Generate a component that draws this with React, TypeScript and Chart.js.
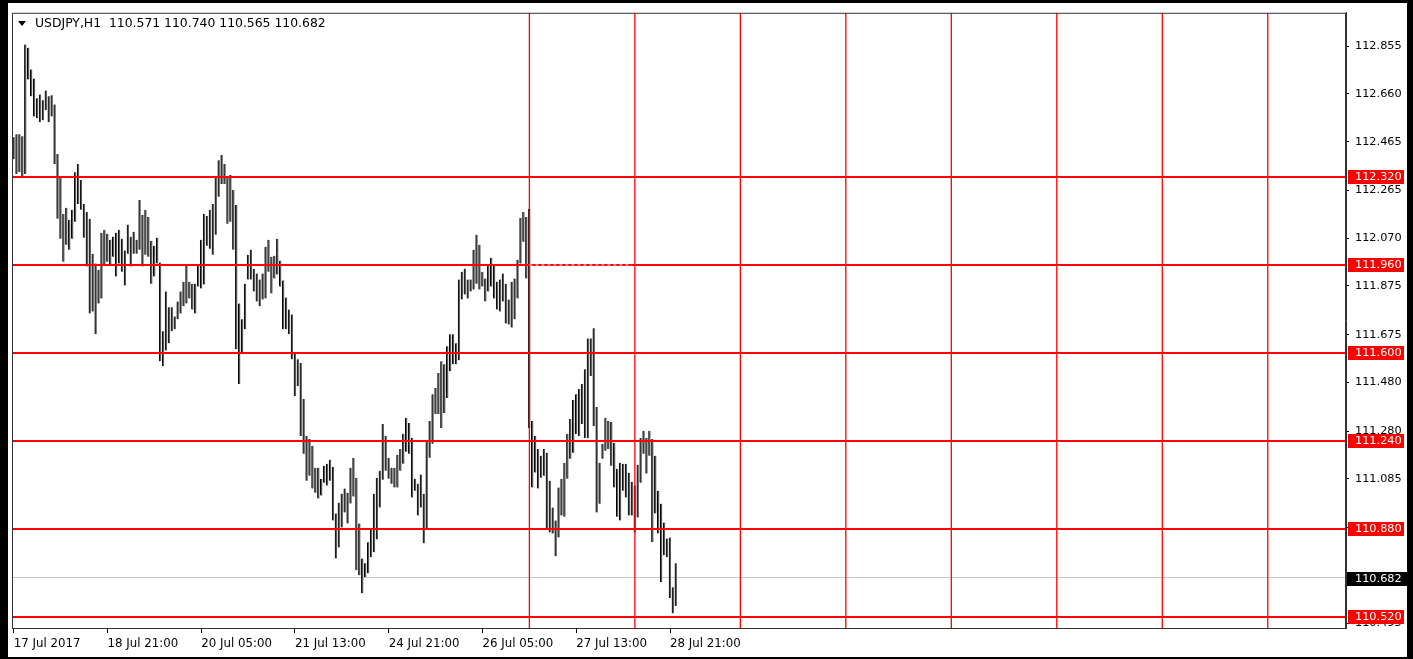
import { useEffect, useRef } from "react";
import { Chart, registerables } from "chart.js";

Chart.register(...registerables);

const SYMBOL = "USDJPY,H1";
const LAST_OHLC = [110.571, 110.74, 110.565, 110.682];

const HIGHS = [
  112.483, 112.495, 112.495, 112.487, 112.862, 112.849, 112.76, 112.723, 112.642, 112.658,
  112.634, 112.674, 112.65, 112.654, 112.617, 112.414, 112.32, 112.169, 112.194, 112.145,
  112.186, 112.34, 112.373, 112.308, 112.21, 112.177, 112.149, 112.006, 111.966, 111.941,
  112.092, 112.104, 112.088, 112.063, 112.076, 112.092, 112.104, 112.068, 112.019, 112.125,
  112.076, 112.096, 112.063, 112.226, 112.165, 112.186, 112.157, 112.059, 112.039, 112.072,
  111.97, 111.689, 111.852, 111.787, 111.787, 111.75, 111.811,
  111.852, 111.892, 111.962, 111.892, 111.884, 111.884, 111.962, 112.063, 112.169, 112.161,
  112.186, 112.21, 112.32, 112.389, 112.41, 112.373, 112.32, 112.328, 112.267, 112.206,
  111.803, 111.738, 111.884, 112.002, 112.023, 111.945, 111.925, 111.901, 111.925, 112.035,
  112.063, 111.994, 111.998, 112.068, 111.978, 111.897, 111.827, 111.778, 111.758, 111.599,
  111.575, 111.559, 111.412, 111.261, 111.249, 111.221, 111.131, 111.131, 111.086, 111.139,
  111.147, 111.164, 111.135, 110.944, 110.988, 111.025, 111.046,
  111.029, 111.131, 111.172, 111.09, 110.903, 110.76, 110.74, 110.826, 110.883, 111.025,
  111.09, 111.119, 111.31, 111.261, 111.172, 111.131, 111.131, 111.184, 111.208, 111.27,
  111.335, 111.314, 111.253, 111.086, 111.066, 111.103, 111.025, 111.241, 111.322, 111.432,
  111.457, 111.518, 111.567, 111.554, 111.628, 111.677, 111.677, 111.64, 111.901, 111.933,
  111.945, 111.901, 111.901, 112.023, 112.084, 112.043, 111.933, 111.905, 111.962, 111.99,
  111.962, 111.892, 111.901, 111.925, 111.884, 111.819,
  111.892, 111.905, 111.982, 112.153, 112.177, 112.157, 112.19, 111.322, 111.261, 111.208,
  111.18, 111.208, 111.192, 111.078, 110.968, 110.915, 111.05, 111.086, 111.151, 111.27,
  111.33, 111.408, 111.432, 111.453, 111.473, 111.534, 111.66, 111.66, 111.701, 111.379,
  111.151, 111.229, 111.335, 111.322, 111.318, 111.233, 111.127, 111.151, 111.147, 111.147,
  111.11, 111.074, 111.058, 111.143, 111.253, 111.282, 111.253, 111.282, 111.249, 111.18,
  111.037, 110.984, 110.907, 110.842, 110.846, 110.642, 110.74,
];

const LOWS = [
  112.393, 112.332, 112.34, 112.324, 112.332, 112.719, 112.65, 112.568, 112.56, 112.544,
  112.552, 112.593, 112.544, 112.568, 112.373, 112.149, 112.068, 111.974, 112.043, 112.023,
  112.068, 112.137, 112.21, 112.186, 112.072, 111.954, 111.762, 111.77, 111.677, 111.803,
  111.823, 111.962, 111.974, 111.962, 111.994, 111.913, 111.966, 111.933, 111.876, 112.006,
  111.954, 112.006, 112.006, 112.023, 111.954, 112.002, 111.994, 111.884, 111.913, 111.966,
  111.567, 111.546, 111.611, 111.64, 111.689, 111.697, 111.738,
  111.762, 111.791, 111.803, 111.823, 111.778, 111.762, 111.872, 111.864, 111.88, 112.039,
  112.027, 112.002, 112.084, 112.239, 112.291, 112.291, 112.129, 112.137, 112.023, 111.616,
  111.473, 111.595, 111.697, 111.901, 111.901, 111.852, 111.811, 111.791, 111.819, 111.823,
  111.933, 111.844, 111.905, 111.921, 111.872, 111.697, 111.697, 111.677, 111.575, 111.424,
  111.465, 111.261, 111.188, 111.078, 111.098, 111.046, 111.029, 111.005, 111.017, 111.07,
  111.058, 111.078, 110.915, 110.76, 110.805, 110.887, 110.948,
  110.903, 110.985, 111.013, 110.712, 110.691, 110.618, 110.683, 110.699, 110.765, 110.785,
  110.838, 110.968, 111.082, 111.119, 111.086, 111.066, 111.05, 111.05, 111.119, 111.147,
  111.196, 111.188, 111.009, 111.037, 110.936, 110.968, 110.822, 110.883, 111.172, 111.229,
  111.351, 111.351, 111.294, 111.355, 111.416, 111.526, 111.554, 111.554, 111.571, 111.819,
  111.84, 111.823, 111.852, 111.86, 111.884, 111.86, 111.872, 111.811, 111.852, 111.872,
  111.823, 111.778, 111.77, 111.811, 111.721, 111.717,
  111.705, 111.738, 111.823, 111.966, 112.055, 111.905, 111.294, 111.05, 111.111, 111.046,
  111.09, 111.098, 110.883, 110.866, 110.862, 110.769, 110.846, 110.936, 110.931, 111.086,
  111.168, 111.192, 111.269, 111.261, 111.31, 111.253, 111.253, 111.506, 111.302, 110.948,
  110.984, 111.168, 111.2, 111.208, 111.139, 111.05, 110.931, 110.915, 111.037, 111.009,
  110.936, 110.936, 110.866, 110.927, 111.07, 111.188, 111.107, 111.18, 110.826, 110.944,
  110.862, 110.663, 110.773, 110.765, 110.598, 110.536, 110.565,
];

const TIME_LABELS = [
  "17 Jul 2017",
  "18 Jul 21:00",
  "20 Jul 05:00",
  "21 Jul 13:00",
  "24 Jul 21:00",
  "26 Jul 05:00",
  "27 Jul 13:00",
  "28 Jul 21:00",
];
const TIME_LABEL_BARS = [0, 32, 64, 96, 128, 160, 192, 224];

const PRICE_TICKS = [
  112.855, 112.66, 112.465, 112.265, 112.07, 111.875, 111.675, 111.48, 111.28, 111.085,
  110.885, 110.69, 110.495,
];

const LEVELS = [112.32, 111.96, 111.6, 111.24, 110.88, 110.52];
const VLINE_BARS = [176, 212, 248, 284, 320, 356, 392, 428];
const DOTTED_FROM_BAR = 176;
const DOTTED_TO_BAR = 211;
const DOTTED_PRICE = 111.96;
const BID = 110.682;

const X_MIN = -0.58;
const X_MAX = 454.7;
const Y_MIN = 110.4755;
const Y_MAX = 112.9918;

const W = 1413;
const H = 659;
const PLOT_L = 12;
const PLOT_T = 10;
const PLOT_R = 1346;
const PLOT_B = 628;

const TICK_FONT = { family: "DejaVu Sans", size: 11.3 };
const TIME_FONT = { family: "DejaVu Sans", size: 11.8 };

const BOXED = [...LEVELS, BID];
const tickHidden = (v: number) => BOXED.some((b) => Math.abs(b - v) < 0.02);

const framePlugin = {
  id: "mtframe",
  beforeDraw(chart: any) {
    const ctx = chart.ctx;
    ctx.save();
    ctx.fillStyle = "#ffffff";
    ctx.fillRect(0, 0, W, H);
    ctx.restore();
  },
  afterDraw(chart: any) {
    const ctx = chart.ctx;
    const ys = chart.scales.y;
    const ca = chart.chartArea;
    ctx.save();
    ctx.strokeStyle = "#333333";
    ctx.lineWidth = 1;
    ctx.strokeRect(ca.left + 0.5, ca.top + 0.5, ca.right - ca.left - 1, ca.bottom - ca.top);
    ctx.font = `${TICK_FONT.size}px "${TICK_FONT.family}"`;
    ctx.textBaseline = "middle";
    ctx.textAlign = "left";
    for (const lv of LEVELS) {
      const y = Math.round(ys.getPixelForValue(lv));
      ctx.fillStyle = "#ff0000";
      ctx.fillRect(1348, y - 7, 56, 14);
      ctx.fillStyle = "#ffffff";
      ctx.fillText(lv.toFixed(3), 1355, y);
    }
    const yb = Math.round(ys.getPixelForValue(BID) + 1);
    ctx.fillStyle = "#000000";
    ctx.fillRect(1347, yb - 7, 62, 14);
    ctx.fillStyle = "#ffffff";
    ctx.fillText(BID.toFixed(3), 1355, yb);
    ctx.fillStyle = "#000000";
    ctx.fillRect(0, 0, 8, H);
    ctx.fillRect(0, 0, W, 3);
    ctx.fillRect(W - 6, 0, 6, H);
    ctx.fillRect(0, H - 2, W, 2);
    ctx.restore();
  },
};

export default function App() {
  const ref = useRef<HTMLCanvasElement | null>(null);

  useEffect(() => {
    const canvas = ref.current;
    if (!canvas) return;

    const bars = HIGHS.map((h, i) => ({ x: i, y: [LOWS[i], h] }));
    const datasets: any[] = [];

    datasets.push({
      type: "line",
      data: [
        { x: X_MIN, y: BID },
        { x: X_MAX, y: BID },
      ],
      borderColor: "#c8c8c8",
      borderWidth: 1,
      pointRadius: 0,
      order: 10,
    });

    datasets.push({
      type: "bar",
      data: bars,
      backgroundColor: "#5a5a5a",
      borderColor: "#000000",
      borderWidth: { left: 1, right: 0, top: 0, bottom: 0 },
      borderSkipped: false,
      barThickness: 2,
      order: 5,
    });

    for (const lv of LEVELS) {
      datasets.push({
        type: "line",
        data: [
          { x: X_MIN, y: lv },
          { x: X_MAX, y: lv },
        ],
        borderColor: "#ff0000",
        borderWidth: 2,
        pointRadius: 0,
        order: 2,
      });
    }
    for (const vb of VLINE_BARS) {
      datasets.push({
        type: "line",
        data: [
          { x: vb, y: Y_MIN },
          { x: vb, y: Y_MAX },
        ],
        borderColor: "#ff0000",
        borderWidth: 1.3,
        pointRadius: 0,
        order: 1,
      });
    }
    datasets.push({
      type: "line",
      data: [
        { x: DOTTED_FROM_BAR, y: DOTTED_PRICE },
        { x: DOTTED_TO_BAR, y: DOTTED_PRICE },
      ],
      borderColor: "#ffffff",
      borderWidth: 1,
      borderDash: [3, 3],
      pointRadius: 0,
      order: 0,
    });

    const chart = new Chart(canvas, {
      type: "bar",
      data: { datasets },
      plugins: [framePlugin],
      options: {
        responsive: false,
        animation: false,
        events: [],
        layout: { padding: { left: PLOT_L, top: PLOT_T, right: 0, bottom: 0 } },
        plugins: { legend: { display: false }, tooltip: { enabled: false } },
        scales: {
          x: {
            type: "linear",
            min: X_MIN,
            max: X_MAX,
            offset: false,
            afterFit: (s: any) => {
              s.height = H - PLOT_B;
            },
            afterBuildTicks: (s: any) => {
              s.ticks = TIME_LABEL_BARS.map((v) => ({ value: v }));
            },
            ticks: {
              autoSkip: false,
              maxRotation: 0,
              minRotation: 0,
              align: "start",
              padding: 4,
              color: "#000000",
              font: TIME_FONT,
              callback: (v: any) => {
                const k = TIME_LABEL_BARS.indexOf(Number(v));
                return k >= 0 ? TIME_LABELS[k] : "";
              },
            },
            grid: {
              offset: false,
              drawOnChartArea: false,
              drawTicks: true,
              tickLength: 5,
              tickColor: "#000000",
            },
            border: { display: true, color: "#333333", width: 1 },
          },
          y: {
            type: "linear",
            position: "right",
            min: Y_MIN,
            max: Y_MAX,
            afterFit: (s: any) => {
              s.width = W - PLOT_R;
            },
            afterBuildTicks: (s: any) => {
              s.ticks = PRICE_TICKS.map((v) => ({ value: v }));
            },
            ticks: {
              autoSkip: false,
              padding: 6,
              color: "#000000",
              font: TICK_FONT,
              callback: (v: any) => (tickHidden(Number(v)) ? "" : Number(v).toFixed(3)),
            },
            grid: {
              drawOnChartArea: false,
              drawTicks: true,
              tickLength: 3,
              tickColor: "#000000",
            },
            border: { display: true, color: "#333333", width: 1 },
          },
        },
      } as any,
    });

    return () => chart.destroy();
  }, []);

  return (
    <div style={{ position: "absolute", left: 0, top: 0, width: W, height: H, background: "#fff" }}>
      <canvas ref={ref} width={W} height={H} style={{ display: "block", width: W, height: H }} />
      <div
        style={{
          position: "absolute",
          left: 18,
          top: 21,
          width: 0,
          height: 0,
          borderLeft: "4px solid transparent",
          borderRight: "4px solid transparent",
          borderTop: "5px solid #000",
        }}
      />
      <div
        style={{
          position: "absolute",
          left: 35,
          top: 15,
          font: '12.4px "DejaVu Sans"',
          lineHeight: "16px",
          whiteSpace: "pre",
          color: "#000",
        }}
      >
        {`${SYMBOL}  ${LAST_OHLC.map((v) => v.toFixed(3)).join(" ")}`}
      </div>
    </div>
  );
}
